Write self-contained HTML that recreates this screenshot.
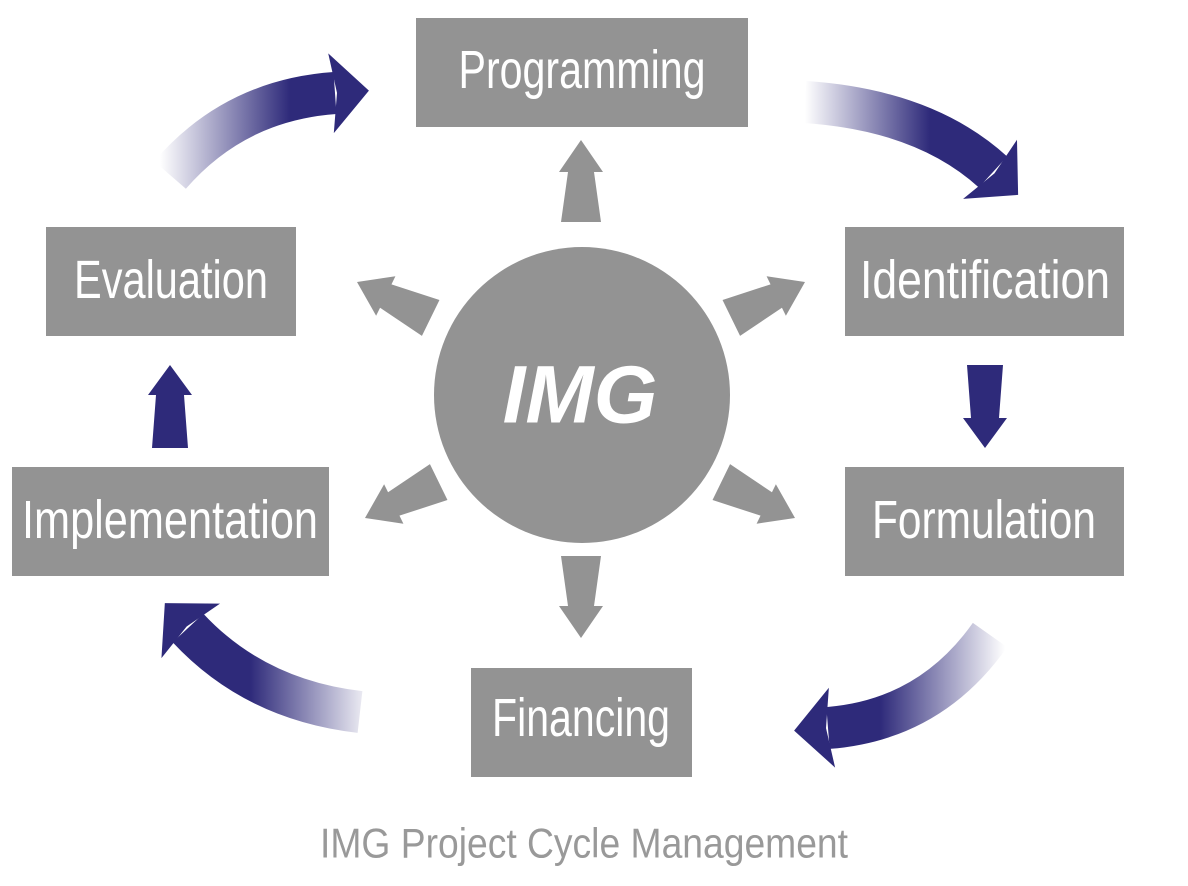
<!DOCTYPE html>
<html><head><meta charset="utf-8"><style>
html,body{margin:0;padding:0;background:#fff;}
svg{display:block;}
.lbl{font-family:"Liberation Sans",sans-serif;font-size:54px;fill:#fff;text-anchor:middle;dominant-baseline:central;}
</style></head><body>
<svg width="1188" height="886" viewBox="0 0 1188 886">
<defs>
<marker id="nh" markerUnits="userSpaceOnUse" markerWidth="80" markerHeight="90" viewBox="-10 -45 60 90" refX="4" refY="0" orient="auto">
<path d="M0,-40 L38,0 L0,40 L6,0 Z" fill="#2e2a7a"/>
</marker>
<linearGradient id="gTL" gradientUnits="userSpaceOnUse" x1="160" y1="0" x2="290" y2="0"><stop offset="0" stop-color="#2e2a7a" stop-opacity="0"/><stop offset="1" stop-color="#2e2a7a"/></linearGradient>
<linearGradient id="gTR" gradientUnits="userSpaceOnUse" x1="805" y1="0" x2="930" y2="0"><stop offset="0" stop-color="#2e2a7a" stop-opacity="0"/><stop offset="1" stop-color="#2e2a7a"/></linearGradient>
<linearGradient id="gBR" gradientUnits="userSpaceOnUse" x1="1005" y1="0" x2="880" y2="0"><stop offset="0" stop-color="#2e2a7a" stop-opacity="0"/><stop offset="1" stop-color="#2e2a7a"/></linearGradient>
<linearGradient id="gBL" gradientUnits="userSpaceOnUse" x1="375" y1="0" x2="250" y2="0"><stop offset="0" stop-color="#2e2a7a" stop-opacity="0"/><stop offset="1" stop-color="#2e2a7a"/></linearGradient>
</defs>

<g fill="none" stroke-width="42">
<path d="M170 175 Q235 100 335 93" stroke="url(#gTL)" marker-end="url(#nh)"/>
<path d="M805 102 Q925 110 993 172" stroke="url(#gTR)" marker-end="url(#nh)"/>
<path d="M990 635 Q930 720 828 728" stroke="url(#gBR)" marker-end="url(#nh)"/>
<path d="M360 712 Q255 700 188 628" stroke="url(#gBL)" marker-end="url(#nh)"/>
</g>

<g fill="#939393">
<polygon points="0,0 -22,32 -13,32 -20,82 20,82 13,32 22,32" transform="translate(581,140)"/>
<polygon points="0,0 -22,32 -13,32 -20,82 20,82 13,32 22,32" transform="translate(581,638) rotate(180)"/>
<polygon points="0,0 -22,32 -13,32 -20,82 20,82 13,32 22,32" transform="translate(357,282) rotate(-64)"/>
<polygon points="0,0 -22,32 -13,32 -20,82 20,82 13,32 22,32" transform="translate(805,282) rotate(64)"/>
<polygon points="0,0 -22,32 -13,32 -20,82 20,82 13,32 22,32" transform="translate(365,518) rotate(-116)"/>
<polygon points="0,0 -22,32 -13,32 -20,82 20,82 13,32 22,32" transform="translate(795,518) rotate(116)"/>
</g>
<g fill="#2e2a7a">
<polygon points="0,0 -22,30 -14,30 -18,83 18,83 14,30 22,30" transform="translate(985,448) rotate(180)"/>
<polygon points="0,0 -22,30 -14,30 -18,83 18,83 14,30 22,30" transform="translate(170,365)"/>
</g>

<g>
<circle cx="582" cy="395" r="148" fill="#939393"/>
<text x="580" y="395" font-family="Liberation Sans,sans-serif" font-weight="bold" font-style="italic" font-size="82" fill="#fff" text-anchor="middle" dominant-baseline="central">IMG</text>
</g>

<g><rect x="416" y="18" width="332" height="109" fill="#939393"/><text class="lbl" x="582" y="70" textLength="247" lengthAdjust="spacingAndGlyphs">Programming</text></g>
<g><rect x="46" y="227" width="250" height="109" fill="#939393"/><text class="lbl" x="171" y="280" textLength="194" lengthAdjust="spacingAndGlyphs">Evaluation</text></g>
<g><rect x="845" y="227" width="279" height="109" fill="#939393"/><text class="lbl" x="985" y="280" textLength="250" lengthAdjust="spacingAndGlyphs">Identification</text></g>
<g><rect x="12" y="467" width="317" height="109" fill="#939393"/><text class="lbl" x="170" y="520" textLength="296" lengthAdjust="spacingAndGlyphs">Implementation</text></g>
<g><rect x="845" y="467" width="279" height="109" fill="#939393"/><text class="lbl" x="984" y="520" textLength="224" lengthAdjust="spacingAndGlyphs">Formulation</text></g>
<g><rect x="471" y="668" width="221" height="109" fill="#939393"/><text class="lbl" x="581" y="718" textLength="178" lengthAdjust="spacingAndGlyphs">Financing</text></g>

<text x="584" y="843" font-family="Liberation Sans,sans-serif" font-size="42" fill="#999" text-anchor="middle" dominant-baseline="central" textLength="528" lengthAdjust="spacingAndGlyphs">IMG Project Cycle Management</text>
</svg>
</body></html>
